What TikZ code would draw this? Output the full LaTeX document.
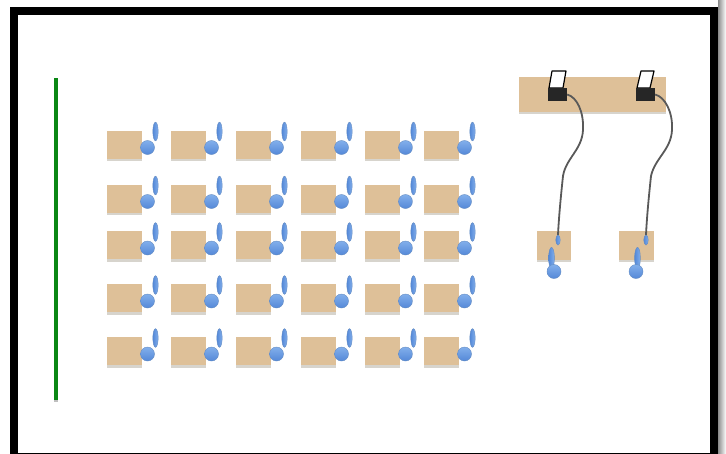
\documentclass[tikz,border=0pt]{standalone}
\usetikzlibrary{shapes.geometric,calc}
\definecolor{tan1}{RGB}{222,192,152}
\definecolor{dot}{RGB}{84,136,216}
\definecolor{dotlight}{RGB}{130,175,235}
\definecolor{dotedge}{RGB}{100,140,195}
\definecolor{shade1}{RGB}{215,212,205}
\definecolor{greenbar}{RGB}{10,135,20}
\tikzset{
  x=0.75pt,y=-0.75pt,
  desk/.style={rectangle,fill=tan1,inner sep=0,outer sep=0,minimum width=26.25pt,minimum height=21pt},
  deskshadow/.style={fill=shade1,draw=none},
  ball/.style={circle,inner sep=0,minimum size=10.5pt,top color=dotlight,bottom color=dot,shading angle=0,draw=dotedge,line width=0.3pt},
  drop/.style={ellipse,inner sep=0,minimum width=4pt,minimum height=14pt,left color=dot,right color=dotlight,draw=dotedge,line width=0.3pt},
  longdrop/.style={ellipse,inner sep=0,minimum width=4.4pt,minimum height=16pt,left color=dot,right color=dotlight,draw=dotedge,line width=0.3pt},
  smalldrop/.style={ellipse,inner sep=0,minimum width=3.4pt,minimum height=7.5pt,left color=dot,right color=dotlight,draw=dotedge,line width=0.3pt},
  cable/.style={draw=black!65,line width=1.35pt},
  screen/.style={fill=white,draw=black,line width=0.9pt,line join=round},
  device/.style={rectangle,fill=black!85,inner sep=0,outer sep=0,minimum width=14.5pt,minimum height=9.75pt},
  frameedge/.style={draw=black,line width=6pt},
  wall/.style={draw=greenbar,line width=3pt}
}
\begin{document}
\begin{tikzpicture}
\useasboundingbox (0,0) rectangle (726,454);
\fill[white] (0,0) rectangle (726,454);
\shade[left color=black!45,right color=white] (718,0) rectangle (726,454);
\draw[frameedge] (14,457) -- (14,11) -- (714,11) -- (714,457);
\fill[black] (10,453) rectangle (718,454);
% wall
\draw[black!25,line width=3pt] (56,80) -- (56,402);
\draw[wall] (56,78) -- (56,400);
% grid of desks
\foreach \r/\yy in {a/144.5,b/198.5,c/245,d/298,e/351}{
  \foreach \c/\xx in {1/124.5,2/188.5,3/253.5,4/318.5,5/382.5,6/441.5}{
    \fill[deskshadow] (\xx-17.5,\yy+12) rectangle (\xx+17.5,\yy+16.5);
    \node[desk] (d\r\c) at (\xx,\yy) {};
    \node[ball] (b\r\c) at (\xx+23,\yy+3) {};
    \node[drop] (e\r\c) at (\xx+31,\yy-13) {};
  }
}
% large table
\fill[deskshadow] (519,108) rectangle (666,114);
\node[rectangle,fill=tan1,inner sep=0,outer sep=0,minimum width=110.25pt,minimum height=26.25pt] (table) at (592.5,94.5) {};
% devices
\draw[screen] (549,88) -- (552,71) -- (566,71) -- (563,88) -- cycle;
\draw[screen] (637,88) -- (641,71) -- (654,71) -- (650,88) -- cycle;
\node[device] (devA) at (557.5,94.5) {};
\node[device] (devB) at (645.5,94.5) {};
% small desks
\fill[deskshadow] (537,255) rectangle (571,262);
\fill[deskshadow] (619,255) rectangle (654,262);
\node[rectangle,fill=tan1,inner sep=0,outer sep=0,minimum width=25.5pt,minimum height=21.75pt] (deskA) at (554,245.5) {};
\node[rectangle,fill=tan1,inner sep=0,outer sep=0,minimum width=26.25pt,minimum height=21.75pt] (deskB) at (636.5,245.5) {};
\node[smalldrop] (tipA) at (558,240) {};
\node[smalldrop] (tipB) at (646,240) {};
% cables
\draw[cable] (devA.east) .. controls (577,97) and (584,112) .. (583,130)
   .. controls (582,150) and (566,158) .. (563,176)
   .. controls (561,195) and (559,215) .. (tipA.north);
\draw[cable] (devB.east) .. controls (665,97) and (673,112) .. (672,130)
   .. controls (671,150) and (655,158) .. (651,176)
   .. controls (649,195) and (647,215) .. (tipB.north);
% bottom drops
\node[longdrop] (lA) at (551.5,258) {};
\node[ball] (cA) at (554,271.5) {};
\node[longdrop] (lB) at (637.5,258) {};
\node[ball] (cB) at (636,271.5) {};
\end{tikzpicture}
\end{document}
